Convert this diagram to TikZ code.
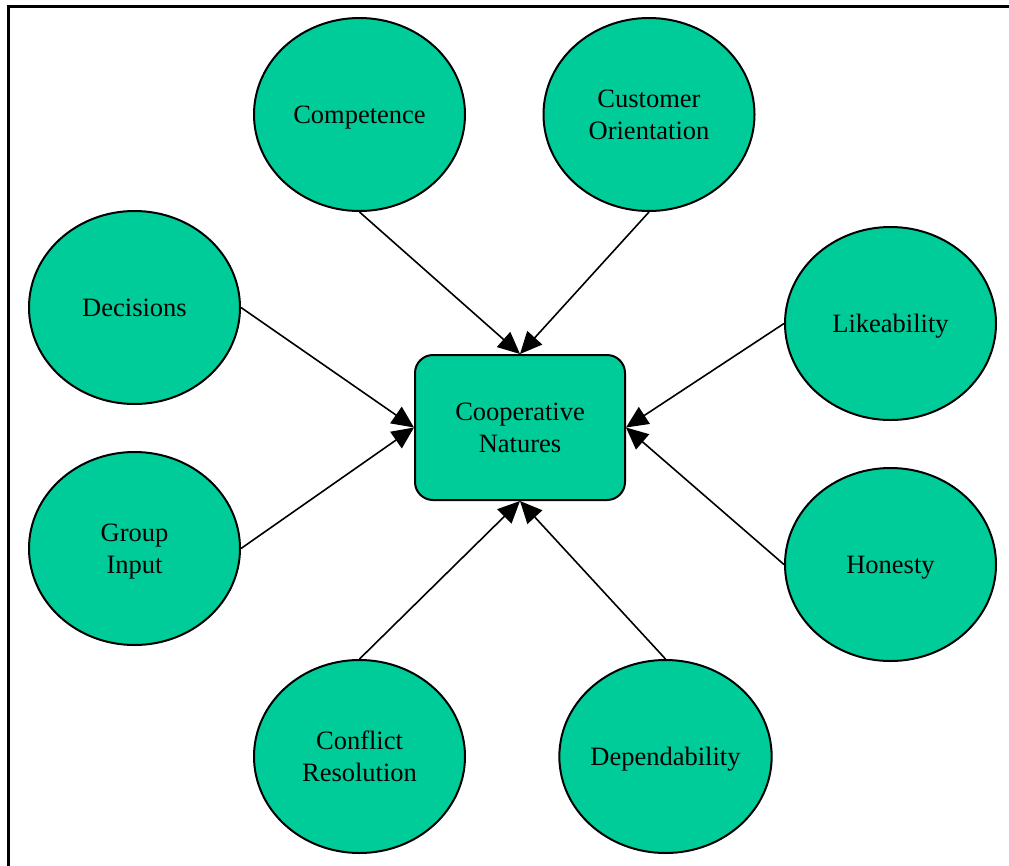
\documentclass[tikz,border=0pt]{standalone}
\usepackage{fontspec}
\setmainfont{Liberation Serif}
\usetikzlibrary{arrows.meta,shapes.geometric}
\definecolor{teal}{RGB}{0,204,153}
\tikzset{
  label text/.style={align=center,font=\fontsize{26.5}{32}\selectfont,text depth=0pt},
  bubble/.style={ellipse,draw=black,line width=2pt,fill=teal,
    minimum width=211pt,minimum height=193pt,inner sep=0pt,label text},
  hub/.style={rectangle,rounded corners=18pt,draw=black,line width=2pt,fill=teal,
    minimum width=210pt,minimum height=145pt,inner sep=0pt,label text},
  link/.style={line width=1.6pt,-{Triangle[length=22pt,width=20pt]}},
}
\begin{document}
\begin{tikzpicture}[x=1pt,y=-1pt]
\useasboundingbox (0,0) rectangle (1009,865);
% outer frame (runs off the right and bottom edges)
\draw[line width=3pt] (8,880) -- (8,6) -- (1020,6);

\node[hub] (cn) at (520,427.5) {Cooperative\\Natures};

\node[bubble] (comp) at (359.5,114.5) {Competence};
\node[bubble] (cust) at (649,114.5) {Customer\\Orientation};
\node[bubble] (dec)  at (134.5,307.5) {Decisions};
\node[bubble] (like) at (890.5,323.5) {Likeability};
\node[bubble] (grp)  at (134.5,548.5) {Group\\Input};
\node[bubble] (hon)  at (890.5,564.5) {Honesty};
\node[bubble] (conf) at (359.5,756.5) {Conflict\\Resolution};
\node[bubble] (dep)  at (665.5,756.5) {Dependability};

\draw[link] (comp.south) -- (cn.north);
\draw[link] (cust.south) -- (cn.north);
\draw[link] (dec.east) -- (cn.west);
\draw[link] (grp.east) -- (cn.west);
\draw[link] (like.west) -- (cn.east);
\draw[link] (hon.west) -- (cn.east);
\draw[link] (conf.north) -- (cn.south);
\draw[link] (dep.north) -- (cn.south);
\end{tikzpicture}
\end{document}
